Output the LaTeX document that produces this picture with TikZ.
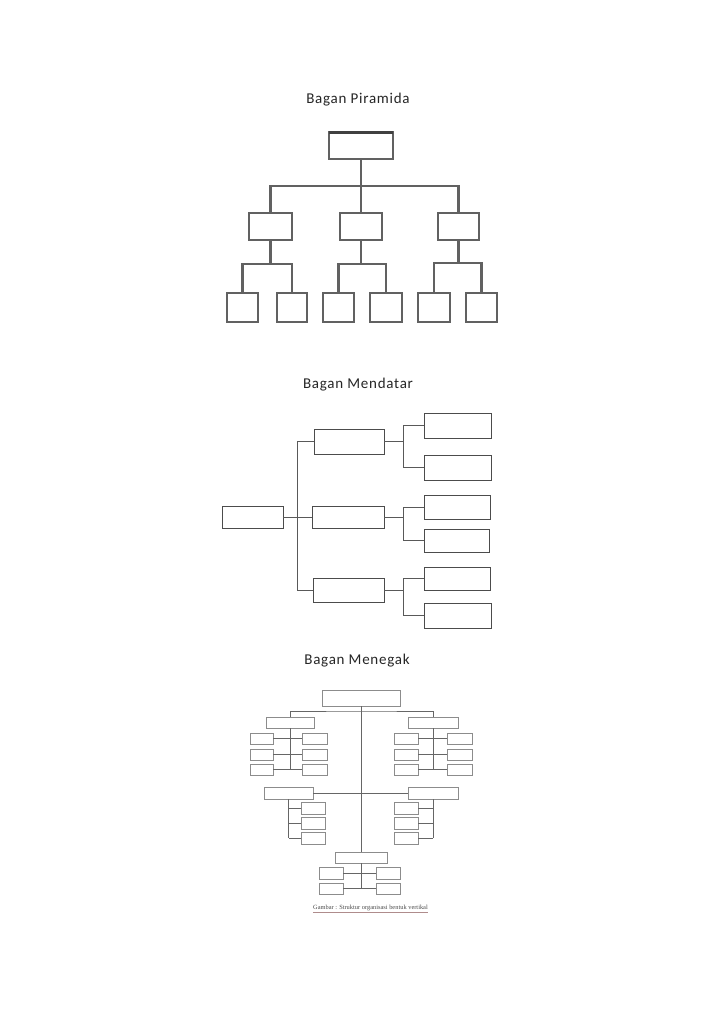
\documentclass[tikz,border=0pt]{standalone}
\usepackage{fontspec}
\setmainfont{Carlito}
\newfontfamily\titlefont[LetterSpace=5]{Carlito}
\newfontfamily\capfont{Liberation Serif}
\begin{document}
\begin{tikzpicture}[x=1pt,y=-1pt,
  title/.style={font=\titlefont\fontsize{15}{17}\selectfont, text=black!85, inner sep=0pt, anchor=center},
  pbox/.style={draw=black!62, line width=2pt, fill=white, inner sep=0pt, outer sep=0pt, minimum height=27pt},
  pline/.style={draw=black!62, line width=2.2pt},
  hbox/.style={draw=black!70, line width=0.9pt, fill=white, inner sep=0pt, outer sep=0pt},
  hline/.style={draw=black!65, line width=0.9pt},
  vbox/.style={draw=black!45, line width=0.6pt, fill=white, inner sep=0pt, outer sep=0pt},
  vline/.style={draw=black!60, line width=0.6pt}]
\useasboundingbox (0,0) rectangle (719,1017);
\fill[white] (0,0) rectangle (719,1017);

% ---------------- Bagan Piramida ----------------
\node[title] (t1) at (358,100) {Bagan Piramida};
\coordinate (pj) at (361,186);
\node[pbox, minimum width=64pt] (P) at (361,145.5) {};
\node[pbox, minimum width=43pt] (P1) at (270.5,226.5) {};
\node[pbox, minimum width=42pt] (P2) at (361,226.5) {};
\node[pbox, minimum width=41pt] (P3) at (458.5,226.5) {};
\node[pbox, minimum width=31pt, minimum height=29pt] (Q1) at (242.5,307.5) {};
\node[pbox, minimum width=30pt, minimum height=29pt] (Q2) at (292,307.5) {};
\node[pbox, minimum width=31pt, minimum height=29pt] (Q3) at (338.5,307.5) {};
\node[pbox, minimum width=32pt, minimum height=29pt] (Q4) at (386,307.5) {};
\node[pbox, minimum width=32pt, minimum height=29pt] (Q5) at (434,307.5) {};
\node[pbox, minimum width=31pt, minimum height=29pt] (Q6) at (481.5,307.5) {};
\draw[draw=black!75, line width=3pt] (P.north west) -- (P.north east);
\draw[pline] (P.south) -- (pj);
\draw[pline] (P1.north) |- (pj) -| (P3.north);
\draw[pline] (pj) -- (P2.north);
\draw[pline] (P1.south) -- ++(0,24) coordinate (pa);
\draw[pline] (Q1.north) |- (pa) -| (Q2.north);
\draw[pline] (P2.south) -- ++(0,24) coordinate (pb);
\draw[pline] (Q3.north) |- (pb) -| (Q4.north);
\draw[pline] (P3.south) -- ++(0,23) coordinate (pc);
\draw[pline] (Q5.north) |- (pc) -| (Q6.north);

% ---------------- Bagan Mendatar ----------------
\node[title] (t2) at (358,385) {Bagan Mendatar};
\node[hbox, minimum width=61pt, minimum height=22pt] (R) at (252.5,517) {};
\node[hbox, minimum width=70pt, minimum height=25pt] (M1) at (349,441.5) {};
\node[hbox, minimum width=72pt, minimum height=22pt] (M2) at (348,517) {};
\node[hbox, minimum width=71pt, minimum height=24pt] (M3) at (348.5,590) {};
\node[hbox, minimum width=67pt, minimum height=25pt] (C1) at (457.5,425.5) {};
\node[hbox, minimum width=67pt, minimum height=25pt] (C2) at (457.5,467.5) {};
\node[hbox, minimum width=66pt, minimum height=24pt] (C3) at (457,507) {};
\node[hbox, minimum width=65pt, minimum height=23pt] (C4) at (456.5,540.5) {};
\node[hbox, minimum width=66pt, minimum height=23pt] (C5) at (457,578.5) {};
\node[hbox, minimum width=67pt, minimum height=25pt] (C6) at (457.5,615.5) {};
\coordinate (tr) at (297,517);
\draw[hline] (R.east) -- (tr);
\draw[hline] (M1.west) -| (tr);
\draw[hline] (M3.west) -| (tr);
\draw[hline] (tr) -- (M2.west);
\draw[hline] (M1.east) -- ++(19,0) coordinate (b1);
\draw[hline] (C1.west) -| (b1);
\draw[hline] (C2.west) -| (b1);
\draw[hline] (M2.east) -- ++(19,0) coordinate (b2);
\draw[hline] (C3.west) -| (b2);
\draw[hline] (C4.west) -| (b2);
\draw[hline] (M3.east) -- ++(19,0) coordinate (b3);
\draw[hline] (C5.west) -| (b3);
\draw[hline] (C6.west) -| (b3);

% ---------------- Bagan Menegak ----------------
\node[title] (t3) at (357,661) {Bagan Menegak};
\node[vbox, minimum width=78pt, minimum height=16pt] (T) at (361,698) {};
\node[vbox, minimum width=48pt, minimum height=11pt] (L1) at (290,722.5) {};
\node[vbox, minimum width=50pt, minimum height=11pt] (R1) at (433,722.5) {};
\node[vbox, minimum width=23pt, minimum height=11pt] (A1) at (261.5,738.5) {};
\node[vbox, minimum width=23pt, minimum height=11pt] (A2) at (261.5,754.5) {};
\node[vbox, minimum width=23pt, minimum height=11pt] (A3) at (261.5,769.5) {};
\node[vbox, minimum width=25pt, minimum height=11pt] (B1) at (314.5,738.5) {};
\node[vbox, minimum width=25pt, minimum height=11pt] (B2) at (314.5,754.5) {};
\node[vbox, minimum width=25pt, minimum height=11pt] (B3) at (314.5,769.5) {};
\node[vbox, minimum width=24pt, minimum height=11pt] (D1) at (406,738.5) {};
\node[vbox, minimum width=24pt, minimum height=11pt] (D2) at (406,754.5) {};
\node[vbox, minimum width=24pt, minimum height=11pt] (D3) at (406,769.5) {};
\node[vbox, minimum width=25pt, minimum height=11pt] (E1) at (459.5,738.5) {};
\node[vbox, minimum width=25pt, minimum height=11pt] (E2) at (459.5,754.5) {};
\node[vbox, minimum width=25pt, minimum height=11pt] (E3) at (459.5,769.5) {};
\node[vbox, minimum width=49pt, minimum height=12pt] (L2) at (288.5,793) {};
\node[vbox, minimum width=50pt, minimum height=12pt] (R2) at (433,793) {};
\node[vbox, minimum width=24pt, minimum height=12pt] (F1) at (313,808) {};
\node[vbox, minimum width=24pt, minimum height=12pt] (F2) at (313,823) {};
\node[vbox, minimum width=24pt, minimum height=12pt] (F3) at (313,838) {};
\node[vbox, minimum width=24pt, minimum height=12pt] (G1) at (406,808) {};
\node[vbox, minimum width=24pt, minimum height=12pt] (G2) at (406,823) {};
\node[vbox, minimum width=24pt, minimum height=12pt] (G3) at (406,838) {};
\node[vbox, minimum width=52pt, minimum height=11pt] (BT) at (361,857.5) {};
\node[vbox, minimum width=24pt, minimum height=12pt] (H1) at (331,873) {};
\node[vbox, minimum width=24pt, minimum height=11pt] (H2) at (331,888.5) {};
\node[vbox, minimum width=24pt, minimum height=12pt] (K1) at (388,873) {};
\node[vbox, minimum width=24pt, minimum height=11pt] (K2) at (388,888.5) {};
% trunk
\draw[vline] (T.south) -- (BT.north);
\coordinate (vh) at (361,711);
\draw[vline] (L1.north) |- (vh) -| (R1.north);
% upper-left group
\draw[vline] (L1.south) -- (L1.south |- A3.east);
\draw[vline] (A1.east) -- (B1.west);
\draw[vline] (A2.east) -- (B2.west);
\draw[vline] (A3.east) -- (B3.west);
% upper-right group
\draw[vline] (R1.south) -- (R1.south |- D3.east);
\draw[vline] (D1.east) -- (E1.west);
\draw[vline] (D2.east) -- (E2.west);
\draw[vline] (D3.east) -- (E3.west);
% middle level
\draw[vline] (L2.east) -- (R2.west);
\draw[vline] (L2.south) -- (L2.south |- F3.west);
\draw[vline] (F1.west) -- (F1.west -| L2.south);
\draw[vline] (F2.west) -- (F2.west -| L2.south);
\draw[vline] (F3.west) -- (F3.west -| L2.south);
\draw[vline] (R2.south) -- (R2.south |- G3.east);
\draw[vline] (G1.east) -- (G1.east -| R2.south);
\draw[vline] (G2.east) -- (G2.east -| R2.south);
\draw[vline] (G3.east) -- (G3.east -| R2.south);
% bottom group
\draw[vline] (BT.south) -- (BT.south |- H2.east);
\draw[vline] (H1.east) -- (K1.west);
\draw[vline] (H2.east) -- (K2.west);
% caption
\node[inner sep=0pt, text=black!70, font=\capfont\fontsize{6.4}{7}\selectfont] (cap) at (370.5,908) {Gambar : Struktur organisasi bentuk vertikal};
\draw[red!30!black!45, line width=0.35pt] ([yshift=-0.8pt]cap.south west) -- ([yshift=-0.8pt]cap.south east);
\end{tikzpicture}
\end{document}
